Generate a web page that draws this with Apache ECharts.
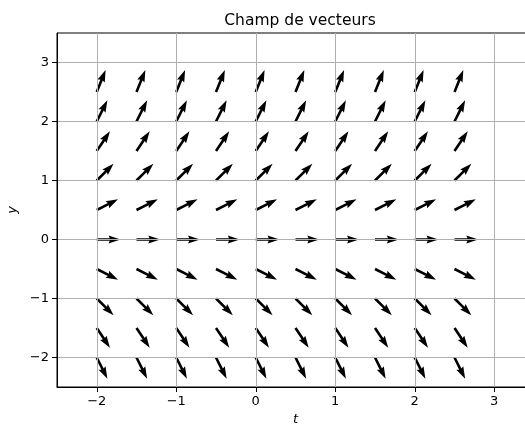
<!DOCTYPE html>
<html>
<head>
<meta charset="utf-8">
<script src="https://cdn.jsdelivr.net/npm/echarts@6/dist/echarts.min.js"></script>
<style>
html,body{margin:0;padding:0;background:#fff;}
#c{width:525px;height:424px;}
</style>
</head>
<body>
<div id="c"></div>
<script>
// grid sample positions
const tValues = [-2, -1.5, -1, -0.5, 0, 0.5, 1, 1.5, 2, 2.5];
const yValues = [-2, -1.5, -1, -0.5, 0, 0.5, 1, 1.5, 2, 2.5];
// slope (dy/dt) of the field read for each y row (same along t)
const rowSlopes = [-2, -1.5, -1, -0.5, 0, 0.5, 1, 1.5, 2, 2.5];
// tick labels
const xTicks = [-2, -1, 0, 1, 2, 3];
const yTicks = [-2, -1, 0, 1, 2, 3];

const data = [];
yValues.forEach((y, j) => {
  tValues.forEach(t => data.push([t, y, rowSlopes[j]]));
});

const FONT = 'DejaVu Sans';
const fmt = v => (v < 0 ? '\u2212' + (-v) : String(v));

const chart = echarts.init(document.getElementById('c'), null, {renderer: 'canvas'});

function renderArrow(params, api) {
  const p = api.coord([api.value(0), api.value(1)]);
  const s = api.value(2);
  const n = Math.sqrt(1 + s * s);
  const ux = 1 / n, uy = -s / n;      // unit direction (screen)
  const vx = -uy, vy = ux;            // perpendicular
  const L = 23.8, w = 2.6, hw = 7.8, hl = 12.0, hal = 10.8;
  const pt = (a, b) => [p[0] + ux * a + vx * b, p[1] + uy * a + vy * b];
  const pts = [
    pt(0, -w / 2), pt(L - hal, -w / 2), pt(L - hl, -hw / 2), pt(L, 0),
    pt(L - hl, hw / 2), pt(L - hal, w / 2), pt(0, w / 2)
  ];
  return {type: 'polygon', shape: {points: pts}, style: {fill: '#000'}};
}

const axisCommon = {
  type: 'value',
  min: -2.5,
  max: 3.5,
  z: 5,
  axisLine: {show: true, onZero: false, lineStyle: {color: '#000', width: 1}},
  axisTick: {show: true, inside: false, length: 5, lineStyle: {color: '#000', width: 1}},
  splitLine: {show: true, lineStyle: {color: '#b0b0b0', width: 1}},
  axisLabel: {color: '#000', fontFamily: FONT, fontSize: 13, formatter: fmt, margin: 8}
};

chart.setOption({
  animation: false,
  backgroundColor: '#fff',
  title: {
    text: 'Champ de vecteurs',
    left: 295, top: 8, textAlign: 'center',
    textStyle: {fontFamily: FONT, fontSize: 15.5, fontWeight: 'normal', color: '#000'}
  },
  grid: {
    left: 57, top: 33, width: 477, height: 354,
    containLabel: false, outerBoundsMode: 'none',
    show: true, borderColor: '#000', borderWidth: 1, backgroundColor: 'transparent'
  },
  xAxis: Object.assign({}, axisCommon, {
    axisTick: Object.assign({}, axisCommon.axisTick, {customValues: xTicks}),
    axisLabel: Object.assign({}, axisCommon.axisLabel, {customValues: xTicks}),
    name: 't', nameLocation: 'middle', nameGap: 25,
    nameTextStyle: {fontFamily: FONT, fontSize: 13, fontStyle: 'italic', color: '#000'}
  }),
  yAxis: Object.assign({}, axisCommon, {
    axisTick: Object.assign({}, axisCommon.axisTick, {customValues: yTicks}),
    axisLabel: Object.assign({}, axisCommon.axisLabel, {customValues: yTicks}),
    name: 'y', nameLocation: 'middle', nameGap: 36, nameRotate: 90,
    nameTextStyle: {fontFamily: FONT, fontSize: 13, fontStyle: 'italic', color: '#000'}
  }),
  series: [{
    type: 'custom',
    z: 1,
    clip: false,
    renderItem: renderArrow,
    data: data
  }]
});
</script>
</body>
</html>
